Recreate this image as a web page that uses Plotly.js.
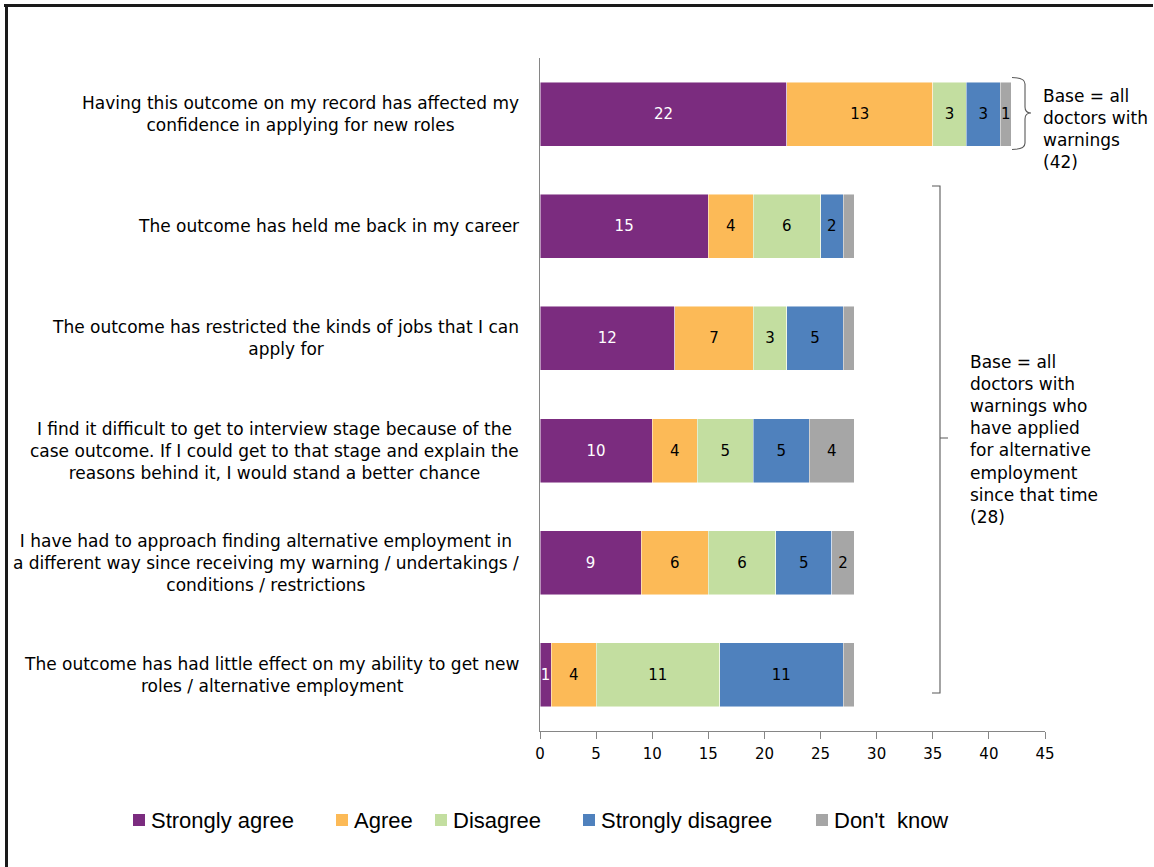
<!DOCTYPE html>
<html>
<head>
<meta charset="utf-8">
<script src="https://cdn.plot.ly/plotly-3.0.1.min.js"></script>
<style>
  html, body { margin: 0; padding: 0; background: #fff; }
  #chart { width: 1154px; height: 867px; }
</style>
</head>
<body>
<div id="chart"></div>
<script>
// Statements shown on the category axis (top to bottom)
const categories = [
  "Having this outcome on my record has affected my<br>confidence in applying for new roles",
  "The outcome has held me back in my career",
  "The outcome has restricted the kinds of jobs that I can<br>apply for",
  "I find it difficult to get to interview stage because of the<br>case outcome. If I could get to that stage and explain the<br>reasons behind it, I would stand a better chance",
  "I have had to approach finding alternative employment in<br>a different way since receiving my warning / undertakings /<br>conditions / restrictions",
  "The outcome has had little effect on my ability to get new<br>roles / alternative employment"
];

// Number of respondents per answer
const stronglyAgree    = [22, 15, 12, 10, 9, 1];
const agree            = [13, 4, 7, 4, 6, 4];
const disagree         = [3, 6, 3, 5, 6, 11];
const stronglyDisagree = [3, 2, 5, 5, 5, 11];
const dontKnow         = [1, 1, 1, 4, 2, 1];

// "Don't know" segments that carry a value label
const dontKnowLabelled = [true, false, false, true, true, false];

const seriesNames  = ["Strongly agree", "Agree", "Disagree", "Strongly disagree", "Don't  know"];
const seriesColors = ["#7B2C7F", "#FCBA57", "#C3DEA0", "#4F81BD", "#A6A6A6"];
const seriesText   = ["#FFFFFF", "#000000", "#000000", "#000000", "#000000"];

const baseNotes = [
  "Base = all<br>doctors with<br>warnings<br>(42)",
  "Base = all<br>doctors with<br>warnings who<br>have applied<br>for alternative<br>employment<br>since that time<br>(28)"
];

const FONT = "DejaVu Sans, Verdana, sans-serif";
const LEGEND_FONT = "Liberation Sans, Arial, sans-serif";

// plot area in page pixels
const W = 1154, H = 867;
const M = { l: 540, r: 109, t: 58, b: 136 };
const PW = W - M.l - M.r, PH = H - M.t - M.b;
const px = x => (x - M.l) / PW;
const py = y => (H - M.b - y) / PH;

const allSeries = [stronglyAgree, agree, disagree, stronglyDisagree, dontKnow];
const traces = allSeries.map((vals, i) => ({
  type: "bar",
  orientation: "h",
  name: seriesNames[i],
  y: categories,
  x: vals,
  text: vals.map((v, j) => (i === 4 && !dontKnowLabelled[j]) ? "" : String(v)),
  textposition: "inside",
  insidetextanchor: "middle",
  textangle: 0,
  textfont: { family: FONT, size: 15, color: seriesText[i] },
  marker: { color: seriesColors[i], line: { color: "rgba(255,255,255,0.6)", width: 0.8 } },
  hoverinfo: "skip",
  showlegend: false
}));

// statement labels, centred lines, right edge just left of the axis
const annotations = categories.map(c => ({
  xref: "paper", yref: "y",
  x: px(521), y: c,
  xanchor: "right", yanchor: "middle",
  align: "center",
  text: c,
  showarrow: false,
  font: { family: FONT, size: 17, color: "#000" }
}));

annotations.push({
  xref: "paper", yref: "paper",
  x: px(1041), y: py(129.5),
  xanchor: "left", yanchor: "middle", align: "left",
  text: baseNotes[0], showarrow: false,
  font: { family: FONT, size: 17, color: "#000" }
});
annotations.push({
  xref: "paper", yref: "paper",
  x: px(968), y: py(439),
  xanchor: "left", yanchor: "middle", align: "left",
  text: baseNotes[1], showarrow: false,
  font: { family: FONT, size: 17, color: "#000" }
});

const P = (x, y) => px(x).toFixed(5) + "," + py(y).toFixed(5);

const shapes = [
  // curly brace next to the first bar
  {
    type: "path", xref: "paper", yref: "paper",
    path: "M" + P(1012, 77.5) + " Q" + P(1025, 77.5) + " " + P(1025, 84) +
          " L" + P(1025, 107) + " Q" + P(1025, 113) + " " + P(1031, 113) +
          " Q" + P(1025, 113) + " " + P(1025, 119) + " L" + P(1025, 143) +
          " Q" + P(1025, 149.5) + " " + P(1012, 149.5),
    line: { color: "#595959", width: 1.1 }
  },
  // square bracket around the remaining bars
  {
    type: "path", xref: "paper", yref: "paper",
    path: "M" + P(932, 186) + " L" + P(940, 186) + " L" + P(940, 693) + " L" + P(932, 693) +
          " M" + P(940, 438) + " L" + P(948, 438),
    line: { color: "#595959", width: 1.1 }
  },
  // frame lines
  {
    type: "line", xref: "paper", yref: "paper",
    x0: px(4), x1: px(1153), y0: py(5.5), y1: py(5.5),
    line: { color: "#1a1a1a", width: 3 }
  },
  {
    type: "line", xref: "paper", yref: "paper",
    x0: px(6.5), x1: px(6.5), y0: py(4), y1: py(870),
    line: { color: "#1a1a1a", width: 3 }
  }
];

// key along the bottom: colour square followed by its name
const keyLeft = [133, 336, 435, 583, 816];
const keyY = 820;
seriesNames.forEach((name, i) => {
  shapes.push({
    type: "rect", xref: "paper", yref: "paper",
    x0: px(keyLeft[i]), x1: px(keyLeft[i] + 12),
    y0: py(keyY - 6), y1: py(keyY + 6),
    fillcolor: seriesColors[i],
    line: { width: 0 }
  });
  annotations.push({
    xref: "paper", yref: "paper",
    x: px(keyLeft[i] + 16), y: py(keyY),
    xanchor: "left", yanchor: "middle",
    text: name, showarrow: false,
    font: { family: LEGEND_FONT, size: 22, color: "#000" }
  });
});

const layout = {
  width: W, height: H,
  margin: M,
  paper_bgcolor: "#fff",
  plot_bgcolor: "#fff",
  barmode: "stack",
  bargap: 0.43,
  showlegend: false,
  uniformtext: { mode: "show", minsize: 15 },
  xaxis: {
    range: [0, 45],
    dtick: 5,
    tick0: 0,
    showgrid: false,
    zeroline: false,
    showline: true,
    linecolor: "#868686",
    linewidth: 1,
    ticks: "outside",
    ticklen: 7,
    tickcolor: "#868686",
    ticklabelstandoff: 2,
    tickfont: { family: FONT, size: 15, color: "#000" },
    fixedrange: true
  },
  yaxis: {
    autorange: "reversed",
    type: "category",
    showticklabels: false,
    showgrid: false,
    zeroline: false,
    showline: true,
    linecolor: "#868686",
    linewidth: 1,
    ticks: "",
    fixedrange: true
  },
  annotations: annotations,
  shapes: shapes
};

Plotly.newPlot("chart", traces, layout, { displayModeBar: false, staticPlot: true });
</script>
</body>
</html>
